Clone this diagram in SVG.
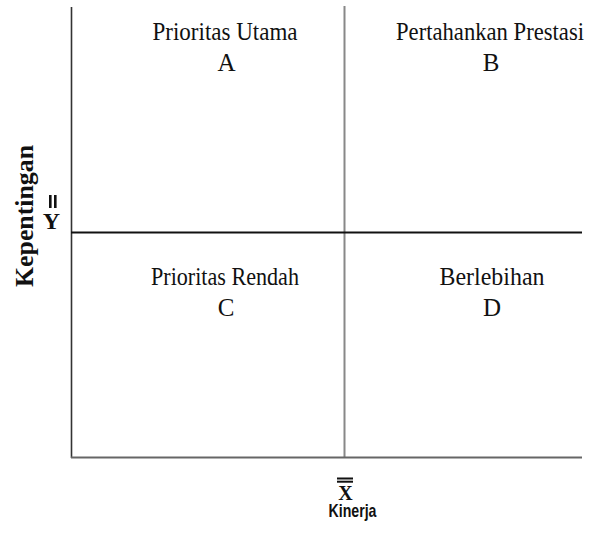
<svg xmlns="http://www.w3.org/2000/svg" width="601" height="542" viewBox="0 0 601 542">
<style>
.lbl{font-family:"Liberation Serif","Times New Roman",serif;font-size:25px;fill:#111;text-anchor:middle}
.ax{font-family:"Liberation Serif","Times New Roman",serif;font-weight:bold;fill:#111;text-anchor:middle}
.axs{font-family:"Liberation Sans",Arial,sans-serif;font-weight:bold;fill:#111;text-anchor:middle}
</style>
<rect width="601" height="542" fill="#fff"/>
<g id="connectors" fill="none">
<line x1="71.5" y1="7" x2="71.5" y2="458" stroke="#333" stroke-width="1.6"/>
<line x1="344.5" y1="6" x2="344.5" y2="458" stroke="#888" stroke-width="2"/>
<line x1="71" y1="232.5" x2="582" y2="232.5" stroke="#111" stroke-width="2"/>
<line x1="71" y1="457.5" x2="582" y2="457.5" stroke="#666" stroke-width="2"/>
</g>
<g id="quadA">
<text class="lbl" x="225" y="40" textLength="145" lengthAdjust="spacingAndGlyphs">Prioritas Utama</text>
<text class="lbl" x="226.5" y="71">A</text>
</g>
<g id="quadB">
<text class="lbl" x="490" y="40" textLength="188" lengthAdjust="spacingAndGlyphs">Pertahankan Prestasi</text>
<text class="lbl" x="491" y="71">B</text>
</g>
<g id="quadC">
<text class="lbl" x="225" y="285" textLength="148" lengthAdjust="spacingAndGlyphs">Prioritas Rendah</text>
<text class="lbl" x="226" y="316">C</text>
</g>
<g id="quadD">
<text class="lbl" x="492" y="285" textLength="105" lengthAdjust="spacingAndGlyphs">Berlebihan</text>
<text class="lbl" x="492" y="316">D</text>
</g>
<g id="yaxis">
<text class="ax" font-size="25" transform="translate(33,216) rotate(-90)" x="0" y="0" textLength="142" lengthAdjust="spacingAndGlyphs">Kepentingan</text>
<rect x="49" y="195" width="2.6" height="13" fill="#111"/>
<rect x="54" y="195" width="2.6" height="13" fill="#111"/>
<text class="ax" font-size="24" x="51.5" y="229">Y</text>
</g>
<g id="xaxis">
<rect x="337" y="477.5" width="16" height="2" fill="#111"/>
<rect x="337" y="480.7" width="16" height="2" fill="#111"/>
<text class="ax" font-size="20" x="345.5" y="500">X</text>
<text class="axs" font-size="19" x="352.5" y="517" textLength="48" lengthAdjust="spacingAndGlyphs">Kinerja</text>
</g>
</svg>
